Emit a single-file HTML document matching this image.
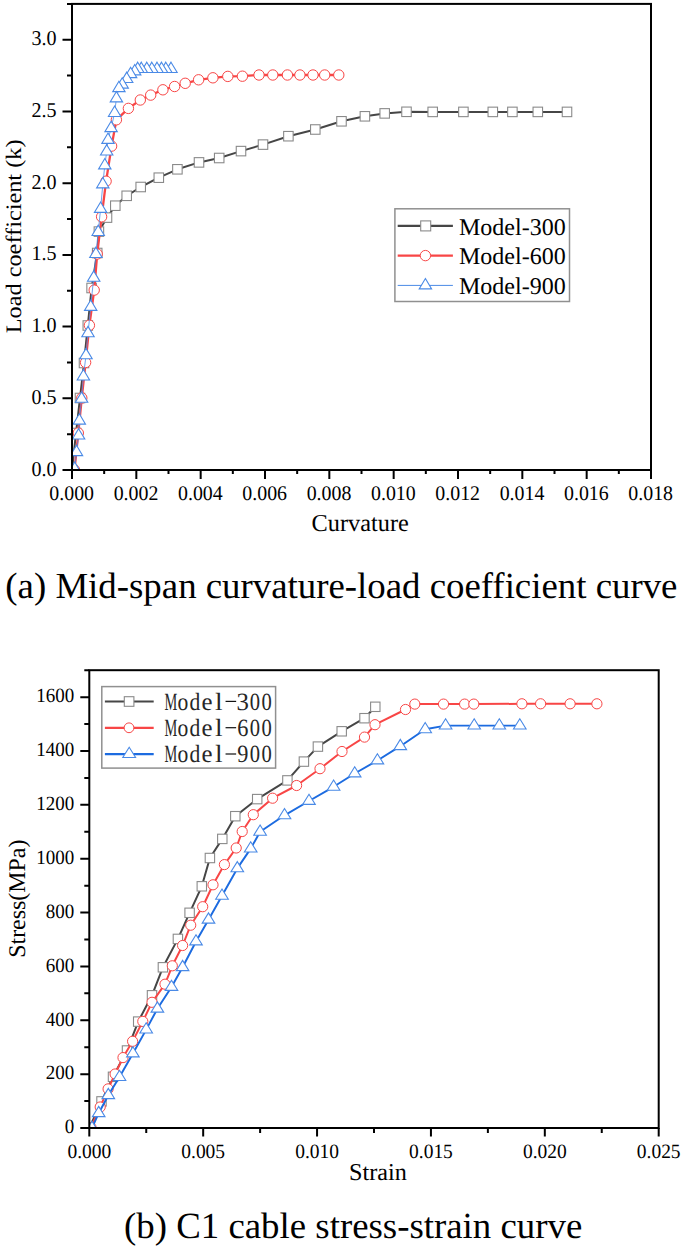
<!DOCTYPE html><html><head><meta charset="utf-8"><style>html,body{margin:0;padding:0;background:#fff;}svg{display:block;text-rendering:geometricPrecision;}</style></head><body>
<svg width="685" height="1249" viewBox="0 0 685 1249" font-family='"Liberation Serif", serif'>
<rect x="0" y="0" width="685" height="1249" fill="#fff"/>
<defs>
<clipPath id="c1"><rect x="72.0" y="3.9" width="579.0" height="466.1"/></clipPath>
</defs>
<g clip-path="url(#c1)">
<polyline points="72.00,470.00 76.00,433.00 80.00,398.00 84.00,363.00 87.80,325.50 91.60,288.00 97.20,253.00 98.90,231.60 107.00,217.60 115.30,205.70 126.70,195.80 140.70,187.00 158.80,177.70 177.40,169.30 199.00,162.40 219.20,158.00 241.00,151.10 263.00,144.60 288.40,136.20 315.30,129.50 341.50,121.30 364.90,116.30 384.70,113.40 406.50,111.80 432.70,111.90 463.40,111.90 492.80,111.90 512.40,111.90 537.80,111.90 567.00,111.90" fill="none" stroke="#464646" stroke-width="2.0" stroke-linejoin="round" stroke-linecap="butt"/>
<rect x="67.25" y="465.25" width="9.5" height="9.5" fill="#fff" stroke="#8a8a8a" stroke-width="1.1"/>
<rect x="71.25" y="428.25" width="9.5" height="9.5" fill="#fff" stroke="#8a8a8a" stroke-width="1.1"/>
<rect x="75.25" y="393.25" width="9.5" height="9.5" fill="#fff" stroke="#8a8a8a" stroke-width="1.1"/>
<rect x="79.25" y="358.25" width="9.5" height="9.5" fill="#fff" stroke="#8a8a8a" stroke-width="1.1"/>
<rect x="83.05" y="320.75" width="9.5" height="9.5" fill="#fff" stroke="#8a8a8a" stroke-width="1.1"/>
<rect x="86.85" y="283.25" width="9.5" height="9.5" fill="#fff" stroke="#8a8a8a" stroke-width="1.1"/>
<rect x="92.45" y="248.25" width="9.5" height="9.5" fill="#fff" stroke="#8a8a8a" stroke-width="1.1"/>
<rect x="94.15" y="226.85" width="9.5" height="9.5" fill="#fff" stroke="#8a8a8a" stroke-width="1.1"/>
<rect x="102.25" y="212.85" width="9.5" height="9.5" fill="#fff" stroke="#8a8a8a" stroke-width="1.1"/>
<rect x="110.55" y="200.95" width="9.5" height="9.5" fill="#fff" stroke="#8a8a8a" stroke-width="1.1"/>
<rect x="121.95" y="191.05" width="9.5" height="9.5" fill="#fff" stroke="#8a8a8a" stroke-width="1.1"/>
<rect x="135.95" y="182.25" width="9.5" height="9.5" fill="#fff" stroke="#8a8a8a" stroke-width="1.1"/>
<rect x="154.05" y="172.95" width="9.5" height="9.5" fill="#fff" stroke="#8a8a8a" stroke-width="1.1"/>
<rect x="172.65" y="164.55" width="9.5" height="9.5" fill="#fff" stroke="#8a8a8a" stroke-width="1.1"/>
<rect x="194.25" y="157.65" width="9.5" height="9.5" fill="#fff" stroke="#8a8a8a" stroke-width="1.1"/>
<rect x="214.45" y="153.25" width="9.5" height="9.5" fill="#fff" stroke="#8a8a8a" stroke-width="1.1"/>
<rect x="236.25" y="146.35" width="9.5" height="9.5" fill="#fff" stroke="#8a8a8a" stroke-width="1.1"/>
<rect x="258.25" y="139.85" width="9.5" height="9.5" fill="#fff" stroke="#8a8a8a" stroke-width="1.1"/>
<rect x="283.65" y="131.45" width="9.5" height="9.5" fill="#fff" stroke="#8a8a8a" stroke-width="1.1"/>
<rect x="310.55" y="124.75" width="9.5" height="9.5" fill="#fff" stroke="#8a8a8a" stroke-width="1.1"/>
<rect x="336.75" y="116.55" width="9.5" height="9.5" fill="#fff" stroke="#8a8a8a" stroke-width="1.1"/>
<rect x="360.15" y="111.55" width="9.5" height="9.5" fill="#fff" stroke="#8a8a8a" stroke-width="1.1"/>
<rect x="379.95" y="108.65" width="9.5" height="9.5" fill="#fff" stroke="#8a8a8a" stroke-width="1.1"/>
<rect x="401.75" y="107.05" width="9.5" height="9.5" fill="#fff" stroke="#8a8a8a" stroke-width="1.1"/>
<rect x="427.95" y="107.15" width="9.5" height="9.5" fill="#fff" stroke="#8a8a8a" stroke-width="1.1"/>
<rect x="458.65" y="107.15" width="9.5" height="9.5" fill="#fff" stroke="#8a8a8a" stroke-width="1.1"/>
<rect x="488.05" y="107.15" width="9.5" height="9.5" fill="#fff" stroke="#8a8a8a" stroke-width="1.1"/>
<rect x="507.65" y="107.15" width="9.5" height="9.5" fill="#fff" stroke="#8a8a8a" stroke-width="1.1"/>
<rect x="533.05" y="107.15" width="9.5" height="9.5" fill="#fff" stroke="#8a8a8a" stroke-width="1.1"/>
<rect x="562.25" y="107.15" width="9.5" height="9.5" fill="#fff" stroke="#8a8a8a" stroke-width="1.1"/>
<polyline points="74.50,470.00 78.30,433.00 81.80,398.00 85.60,362.50 89.40,325.30 94.20,290.10 97.20,254.00 101.60,216.80 106.10,181.20 111.60,146.10 116.40,119.80 128.40,108.40 140.30,100.00 150.70,95.10 162.90,89.80 174.60,86.50 185.20,83.30 198.60,79.80 212.90,77.80 227.80,76.40 242.40,76.20 259.00,75.00 272.80,75.00 287.40,75.00 299.90,75.00 313.00,75.00 324.70,75.00 338.80,75.00" fill="none" stroke="#f84646" stroke-width="2.3" stroke-linejoin="round" stroke-linecap="butt"/>
<circle cx="74.50" cy="470.00" r="5.2" fill="#fff" stroke="#f84646" stroke-width="1.0"/>
<circle cx="78.30" cy="433.00" r="5.2" fill="#fff" stroke="#f84646" stroke-width="1.0"/>
<circle cx="81.80" cy="398.00" r="5.2" fill="#fff" stroke="#f84646" stroke-width="1.0"/>
<circle cx="85.60" cy="362.50" r="5.2" fill="#fff" stroke="#f84646" stroke-width="1.0"/>
<circle cx="89.40" cy="325.30" r="5.2" fill="#fff" stroke="#f84646" stroke-width="1.0"/>
<circle cx="94.20" cy="290.10" r="5.2" fill="#fff" stroke="#f84646" stroke-width="1.0"/>
<circle cx="97.20" cy="254.00" r="5.2" fill="#fff" stroke="#f84646" stroke-width="1.0"/>
<circle cx="101.60" cy="216.80" r="5.2" fill="#fff" stroke="#f84646" stroke-width="1.0"/>
<circle cx="106.10" cy="181.20" r="5.2" fill="#fff" stroke="#f84646" stroke-width="1.0"/>
<circle cx="111.60" cy="146.10" r="5.2" fill="#fff" stroke="#f84646" stroke-width="1.0"/>
<circle cx="116.40" cy="119.80" r="5.2" fill="#fff" stroke="#f84646" stroke-width="1.0"/>
<circle cx="128.40" cy="108.40" r="5.2" fill="#fff" stroke="#f84646" stroke-width="1.0"/>
<circle cx="140.30" cy="100.00" r="5.2" fill="#fff" stroke="#f84646" stroke-width="1.0"/>
<circle cx="150.70" cy="95.10" r="5.2" fill="#fff" stroke="#f84646" stroke-width="1.0"/>
<circle cx="162.90" cy="89.80" r="5.2" fill="#fff" stroke="#f84646" stroke-width="1.0"/>
<circle cx="174.60" cy="86.50" r="5.2" fill="#fff" stroke="#f84646" stroke-width="1.0"/>
<circle cx="185.20" cy="83.30" r="5.2" fill="#fff" stroke="#f84646" stroke-width="1.0"/>
<circle cx="198.60" cy="79.80" r="5.2" fill="#fff" stroke="#f84646" stroke-width="1.0"/>
<circle cx="212.90" cy="77.80" r="5.2" fill="#fff" stroke="#f84646" stroke-width="1.0"/>
<circle cx="227.80" cy="76.40" r="5.2" fill="#fff" stroke="#f84646" stroke-width="1.0"/>
<circle cx="242.40" cy="76.20" r="5.2" fill="#fff" stroke="#f84646" stroke-width="1.0"/>
<circle cx="259.00" cy="75.00" r="5.2" fill="#fff" stroke="#f84646" stroke-width="1.0"/>
<circle cx="272.80" cy="75.00" r="5.2" fill="#fff" stroke="#f84646" stroke-width="1.0"/>
<circle cx="287.40" cy="75.00" r="5.2" fill="#fff" stroke="#f84646" stroke-width="1.0"/>
<circle cx="299.90" cy="75.00" r="5.2" fill="#fff" stroke="#f84646" stroke-width="1.0"/>
<circle cx="313.00" cy="75.00" r="5.2" fill="#fff" stroke="#f84646" stroke-width="1.0"/>
<circle cx="324.70" cy="75.00" r="5.2" fill="#fff" stroke="#f84646" stroke-width="1.0"/>
<circle cx="338.80" cy="75.00" r="5.2" fill="#fff" stroke="#f84646" stroke-width="1.0"/>
<polyline points="74.70,469.00 76.50,452.20 78.60,435.60 79.30,420.70 81.60,398.80 83.40,376.50 86.00,355.30 88.00,333.30 90.70,306.90 93.70,277.80 95.90,254.10 98.20,232.10 100.60,208.90 102.80,184.40 104.80,165.40 106.70,151.60 108.00,139.90 111.10,128.20 114.60,113.00 116.40,98.40 118.90,88.20 122.20,84.70 126.70,79.10 130.60,74.20 134.70,71.40 137.70,69.10 141.30,69.10 146.80,69.10 151.80,69.10 157.00,69.10 161.50,69.10 165.80,69.10 171.00,69.10" fill="none" stroke="#4a8ae6" stroke-width="0.8" stroke-linejoin="round" stroke-linecap="butt"/>
<path d="M171.00 62.17L177.20 72.57L164.80 72.57Z" fill="#fff" stroke="#4a8ae6" stroke-width="1.1" stroke-linejoin="miter"/>
<path d="M165.80 62.17L172.00 72.57L159.60 72.57Z" fill="#fff" stroke="#4a8ae6" stroke-width="1.1" stroke-linejoin="miter"/>
<path d="M161.50 62.17L167.70 72.57L155.30 72.57Z" fill="#fff" stroke="#4a8ae6" stroke-width="1.1" stroke-linejoin="miter"/>
<path d="M157.00 62.17L163.20 72.57L150.80 72.57Z" fill="#fff" stroke="#4a8ae6" stroke-width="1.1" stroke-linejoin="miter"/>
<path d="M151.80 62.17L158.00 72.57L145.60 72.57Z" fill="#fff" stroke="#4a8ae6" stroke-width="1.1" stroke-linejoin="miter"/>
<path d="M146.80 62.17L153.00 72.57L140.60 72.57Z" fill="#fff" stroke="#4a8ae6" stroke-width="1.1" stroke-linejoin="miter"/>
<path d="M141.30 62.17L147.50 72.57L135.10 72.57Z" fill="#fff" stroke="#4a8ae6" stroke-width="1.1" stroke-linejoin="miter"/>
<path d="M137.70 62.17L143.90 72.57L131.50 72.57Z" fill="#fff" stroke="#4a8ae6" stroke-width="1.1" stroke-linejoin="miter"/>
<path d="M134.70 64.47L140.90 74.87L128.50 74.87Z" fill="#fff" stroke="#4a8ae6" stroke-width="1.1" stroke-linejoin="miter"/>
<path d="M130.60 67.27L136.80 77.67L124.40 77.67Z" fill="#fff" stroke="#4a8ae6" stroke-width="1.1" stroke-linejoin="miter"/>
<path d="M126.70 72.17L132.90 82.57L120.50 82.57Z" fill="#fff" stroke="#4a8ae6" stroke-width="1.1" stroke-linejoin="miter"/>
<path d="M122.20 77.77L128.40 88.17L116.00 88.17Z" fill="#fff" stroke="#4a8ae6" stroke-width="1.1" stroke-linejoin="miter"/>
<path d="M118.90 81.27L125.10 91.67L112.70 91.67Z" fill="#fff" stroke="#4a8ae6" stroke-width="1.1" stroke-linejoin="miter"/>
<path d="M116.40 91.47L122.60 101.87L110.20 101.87Z" fill="#fff" stroke="#4a8ae6" stroke-width="1.1" stroke-linejoin="miter"/>
<path d="M114.60 106.07L120.80 116.47L108.40 116.47Z" fill="#fff" stroke="#4a8ae6" stroke-width="1.1" stroke-linejoin="miter"/>
<path d="M111.10 121.27L117.30 131.67L104.90 131.67Z" fill="#fff" stroke="#4a8ae6" stroke-width="1.1" stroke-linejoin="miter"/>
<path d="M108.00 132.97L114.20 143.37L101.80 143.37Z" fill="#fff" stroke="#4a8ae6" stroke-width="1.1" stroke-linejoin="miter"/>
<path d="M106.70 144.67L112.90 155.07L100.50 155.07Z" fill="#fff" stroke="#4a8ae6" stroke-width="1.1" stroke-linejoin="miter"/>
<path d="M104.80 158.47L111.00 168.87L98.60 168.87Z" fill="#fff" stroke="#4a8ae6" stroke-width="1.1" stroke-linejoin="miter"/>
<path d="M102.80 177.47L109.00 187.87L96.60 187.87Z" fill="#fff" stroke="#4a8ae6" stroke-width="1.1" stroke-linejoin="miter"/>
<path d="M100.60 201.97L106.80 212.37L94.40 212.37Z" fill="#fff" stroke="#4a8ae6" stroke-width="1.1" stroke-linejoin="miter"/>
<path d="M98.20 225.17L104.40 235.57L92.00 235.57Z" fill="#fff" stroke="#4a8ae6" stroke-width="1.1" stroke-linejoin="miter"/>
<path d="M95.90 247.17L102.10 257.57L89.70 257.57Z" fill="#fff" stroke="#4a8ae6" stroke-width="1.1" stroke-linejoin="miter"/>
<path d="M93.70 270.87L99.90 281.27L87.50 281.27Z" fill="#fff" stroke="#4a8ae6" stroke-width="1.1" stroke-linejoin="miter"/>
<path d="M90.70 299.97L96.90 310.37L84.50 310.37Z" fill="#fff" stroke="#4a8ae6" stroke-width="1.1" stroke-linejoin="miter"/>
<path d="M88.00 326.37L94.20 336.77L81.80 336.77Z" fill="#fff" stroke="#4a8ae6" stroke-width="1.1" stroke-linejoin="miter"/>
<path d="M86.00 348.37L92.20 358.77L79.80 358.77Z" fill="#fff" stroke="#4a8ae6" stroke-width="1.1" stroke-linejoin="miter"/>
<path d="M83.40 369.57L89.60 379.97L77.20 379.97Z" fill="#fff" stroke="#4a8ae6" stroke-width="1.1" stroke-linejoin="miter"/>
<path d="M81.60 391.87L87.80 402.27L75.40 402.27Z" fill="#fff" stroke="#4a8ae6" stroke-width="1.1" stroke-linejoin="miter"/>
<path d="M79.30 413.77L85.50 424.17L73.10 424.17Z" fill="#fff" stroke="#4a8ae6" stroke-width="1.1" stroke-linejoin="miter"/>
<path d="M78.60 428.67L84.80 439.07L72.40 439.07Z" fill="#fff" stroke="#4a8ae6" stroke-width="1.1" stroke-linejoin="miter"/>
<path d="M76.50 445.27L82.70 455.67L70.30 455.67Z" fill="#fff" stroke="#4a8ae6" stroke-width="1.1" stroke-linejoin="miter"/>
<path d="M74.70 462.07L80.90 472.47L68.50 472.47Z" fill="#fff" stroke="#4a8ae6" stroke-width="1.1" stroke-linejoin="miter"/>
</g>
<rect x="72.0" y="3.9" width="579.0" height="466.1" fill="none" stroke="#000" stroke-width="2"/>
<path d="M72.00 470.0V479.0 M104.17 470.0V474.1 M136.33 470.0V479.0 M168.50 470.0V474.1 M200.67 470.0V479.0 M232.83 470.0V474.1 M265.00 470.0V479.0 M297.17 470.0V474.1 M329.33 470.0V479.0 M361.50 470.0V474.1 M393.67 470.0V479.0 M425.83 470.0V474.1 M458.00 470.0V479.0 M490.17 470.0V474.1 M522.33 470.0V479.0 M554.50 470.0V474.1 M586.67 470.0V479.0 M618.83 470.0V474.1 M651.00 470.0V479.0 M72.0 470.00H62.5 M72.0 398.29H62.5 M72.0 326.58H62.5 M72.0 254.88H62.5 M72.0 183.17H62.5 M72.0 111.46H62.5 M72.0 39.75H62.5 M72.0 434.15H67.0 M72.0 362.44H67.0 M72.0 290.73H67.0 M72.0 219.02H67.0 M72.0 147.32H67.0 M72.0 75.61H67.0 M72.0 3.90H67.0" stroke="#000" stroke-width="2" fill="none"/>
<text transform="translate(71.70,500.2) scale(0.955,1)" font-size="20.8" text-anchor="middle">0.000</text>
<text transform="translate(136.03,500.2) scale(0.955,1)" font-size="20.8" text-anchor="middle">0.002</text>
<text transform="translate(200.37,500.2) scale(0.955,1)" font-size="20.8" text-anchor="middle">0.004</text>
<text transform="translate(264.70,500.2) scale(0.955,1)" font-size="20.8" text-anchor="middle">0.006</text>
<text transform="translate(329.03,500.2) scale(0.955,1)" font-size="20.8" text-anchor="middle">0.008</text>
<text transform="translate(393.37,500.2) scale(0.955,1)" font-size="20.8" text-anchor="middle">0.010</text>
<text transform="translate(457.70,500.2) scale(0.955,1)" font-size="20.8" text-anchor="middle">0.012</text>
<text transform="translate(522.03,500.2) scale(0.955,1)" font-size="20.8" text-anchor="middle">0.014</text>
<text transform="translate(586.37,500.2) scale(0.955,1)" font-size="20.8" text-anchor="middle">0.016</text>
<text transform="translate(650.70,500.2) scale(0.955,1)" font-size="20.8" text-anchor="middle">0.018</text>
<text transform="translate(56.5,475.60) scale(0.955,1)" font-size="21" text-anchor="end">0.0</text>
<text transform="translate(56.5,403.89) scale(0.955,1)" font-size="21" text-anchor="end">0.5</text>
<text transform="translate(56.5,332.18) scale(0.955,1)" font-size="21" text-anchor="end">1.0</text>
<text transform="translate(56.5,260.48) scale(0.955,1)" font-size="21" text-anchor="end">1.5</text>
<text transform="translate(56.5,188.77) scale(0.955,1)" font-size="21" text-anchor="end">2.0</text>
<text transform="translate(56.5,117.06) scale(0.955,1)" font-size="21" text-anchor="end">2.5</text>
<text transform="translate(56.5,45.35) scale(0.955,1)" font-size="21" text-anchor="end">3.0</text>
<text x="360.2" y="530.6" font-size="24.3" text-anchor="middle">Curvature</text>
<text transform="translate(20.9,236.4) rotate(-90) scale(1,0.91)" x="0" y="0" font-size="24.3" text-anchor="middle">Load coefficient (k)</text>
<rect x="394.9" y="208.8" width="174.6" height="92.7" fill="#fff" stroke="#909090" stroke-width="1.5"/>
<path d="M397.7 225.9H452.9" stroke="#464646" stroke-width="2.2"/>
<rect x="420.70" y="220.90" width="10" height="10" fill="#fff" stroke="#8a8a8a" stroke-width="1.1"/>
<path d="M397.7 255.6H452.9" stroke="#f84646" stroke-width="2.3"/>
<circle cx="425.40" cy="255.60" r="5.2" fill="#fff" stroke="#f84646" stroke-width="1.0"/>
<path d="M397.7 285.4H452.9" stroke="#4a8ae6" stroke-width="1"/>
<path d="M425.40 278.47L431.60 288.87L419.20 288.87Z" fill="#fff" stroke="#4a8ae6" stroke-width="1.1" stroke-linejoin="miter"/>
<text x="459" y="234.50" font-size="24">Model-300</text>
<text x="459" y="264.20" font-size="24">Model-600</text>
<text x="459" y="294.00" font-size="24">Model-900</text>
<text x="5.3" y="598" font-size="36.85">(a) Mid-span curvature-load coefficient curve</text>
<defs><clipPath id="c2"><rect x="89.3" y="670.2" width="569.4000000000001" height="457.79999999999995"/></clipPath></defs>
<g clip-path="url(#c2)">
<polyline points="89.30,1128.00 101.50,1101.40 113.00,1076.80 127.00,1050.50 138.20,1021.60 152.00,995.30 162.90,967.30 177.90,938.90 189.60,912.80 201.80,886.30 209.90,858.00 222.30,838.90 235.30,816.20 257.20,799.10 287.40,780.40 303.90,761.60 317.90,746.60 341.70,731.30 364.50,718.20 375.30,706.80" fill="none" stroke="#464646" stroke-width="2.0" stroke-linejoin="round" stroke-linecap="butt"/>
<rect x="84.60" y="1123.30" width="9.4" height="9.4" fill="#fff" stroke="#8a8a8a" stroke-width="1.1"/>
<rect x="96.80" y="1096.70" width="9.4" height="9.4" fill="#fff" stroke="#8a8a8a" stroke-width="1.1"/>
<rect x="108.30" y="1072.10" width="9.4" height="9.4" fill="#fff" stroke="#8a8a8a" stroke-width="1.1"/>
<rect x="122.30" y="1045.80" width="9.4" height="9.4" fill="#fff" stroke="#8a8a8a" stroke-width="1.1"/>
<rect x="133.50" y="1016.90" width="9.4" height="9.4" fill="#fff" stroke="#8a8a8a" stroke-width="1.1"/>
<rect x="147.30" y="990.60" width="9.4" height="9.4" fill="#fff" stroke="#8a8a8a" stroke-width="1.1"/>
<rect x="158.20" y="962.60" width="9.4" height="9.4" fill="#fff" stroke="#8a8a8a" stroke-width="1.1"/>
<rect x="173.20" y="934.20" width="9.4" height="9.4" fill="#fff" stroke="#8a8a8a" stroke-width="1.1"/>
<rect x="184.90" y="908.10" width="9.4" height="9.4" fill="#fff" stroke="#8a8a8a" stroke-width="1.1"/>
<rect x="197.10" y="881.60" width="9.4" height="9.4" fill="#fff" stroke="#8a8a8a" stroke-width="1.1"/>
<rect x="205.20" y="853.30" width="9.4" height="9.4" fill="#fff" stroke="#8a8a8a" stroke-width="1.1"/>
<rect x="217.60" y="834.20" width="9.4" height="9.4" fill="#fff" stroke="#8a8a8a" stroke-width="1.1"/>
<rect x="230.60" y="811.50" width="9.4" height="9.4" fill="#fff" stroke="#8a8a8a" stroke-width="1.1"/>
<rect x="252.50" y="794.40" width="9.4" height="9.4" fill="#fff" stroke="#8a8a8a" stroke-width="1.1"/>
<rect x="282.70" y="775.70" width="9.4" height="9.4" fill="#fff" stroke="#8a8a8a" stroke-width="1.1"/>
<rect x="299.20" y="756.90" width="9.4" height="9.4" fill="#fff" stroke="#8a8a8a" stroke-width="1.1"/>
<rect x="313.20" y="741.90" width="9.4" height="9.4" fill="#fff" stroke="#8a8a8a" stroke-width="1.1"/>
<rect x="337.00" y="726.60" width="9.4" height="9.4" fill="#fff" stroke="#8a8a8a" stroke-width="1.1"/>
<rect x="359.80" y="713.50" width="9.4" height="9.4" fill="#fff" stroke="#8a8a8a" stroke-width="1.1"/>
<rect x="370.60" y="702.10" width="9.4" height="9.4" fill="#fff" stroke="#8a8a8a" stroke-width="1.1"/>
<polyline points="91.00,1127.50 100.20,1107.00 108.10,1088.90 115.10,1074.00 123.00,1057.60 132.60,1041.30 142.80,1021.40 152.00,1002.30 165.00,984.20 172.30,965.80 182.60,945.50 190.70,925.20 202.70,906.70 213.00,884.80 224.40,864.60 236.20,848.00 242.20,831.50 253.30,814.70 272.60,798.20 296.60,785.50 320.00,768.70 342.00,751.50 364.50,737.10 375.00,724.70 405.50,709.50 414.80,704.10 443.50,704.10 464.60,704.10 473.80,704.10 521.90,703.80 540.60,703.80 570.10,703.80 596.90,703.80" fill="none" stroke="#f84646" stroke-width="2.0" stroke-linejoin="round" stroke-linecap="butt"/>
<circle cx="91.00" cy="1127.50" r="5.1" fill="#fff" stroke="#f84646" stroke-width="1.0"/>
<circle cx="100.20" cy="1107.00" r="5.1" fill="#fff" stroke="#f84646" stroke-width="1.0"/>
<circle cx="108.10" cy="1088.90" r="5.1" fill="#fff" stroke="#f84646" stroke-width="1.0"/>
<circle cx="115.10" cy="1074.00" r="5.1" fill="#fff" stroke="#f84646" stroke-width="1.0"/>
<circle cx="123.00" cy="1057.60" r="5.1" fill="#fff" stroke="#f84646" stroke-width="1.0"/>
<circle cx="132.60" cy="1041.30" r="5.1" fill="#fff" stroke="#f84646" stroke-width="1.0"/>
<circle cx="142.80" cy="1021.40" r="5.1" fill="#fff" stroke="#f84646" stroke-width="1.0"/>
<circle cx="152.00" cy="1002.30" r="5.1" fill="#fff" stroke="#f84646" stroke-width="1.0"/>
<circle cx="165.00" cy="984.20" r="5.1" fill="#fff" stroke="#f84646" stroke-width="1.0"/>
<circle cx="172.30" cy="965.80" r="5.1" fill="#fff" stroke="#f84646" stroke-width="1.0"/>
<circle cx="182.60" cy="945.50" r="5.1" fill="#fff" stroke="#f84646" stroke-width="1.0"/>
<circle cx="190.70" cy="925.20" r="5.1" fill="#fff" stroke="#f84646" stroke-width="1.0"/>
<circle cx="202.70" cy="906.70" r="5.1" fill="#fff" stroke="#f84646" stroke-width="1.0"/>
<circle cx="213.00" cy="884.80" r="5.1" fill="#fff" stroke="#f84646" stroke-width="1.0"/>
<circle cx="224.40" cy="864.60" r="5.1" fill="#fff" stroke="#f84646" stroke-width="1.0"/>
<circle cx="236.20" cy="848.00" r="5.1" fill="#fff" stroke="#f84646" stroke-width="1.0"/>
<circle cx="242.20" cy="831.50" r="5.1" fill="#fff" stroke="#f84646" stroke-width="1.0"/>
<circle cx="253.30" cy="814.70" r="5.1" fill="#fff" stroke="#f84646" stroke-width="1.0"/>
<circle cx="272.60" cy="798.20" r="5.1" fill="#fff" stroke="#f84646" stroke-width="1.0"/>
<circle cx="296.60" cy="785.50" r="5.1" fill="#fff" stroke="#f84646" stroke-width="1.0"/>
<circle cx="320.00" cy="768.70" r="5.1" fill="#fff" stroke="#f84646" stroke-width="1.0"/>
<circle cx="342.00" cy="751.50" r="5.1" fill="#fff" stroke="#f84646" stroke-width="1.0"/>
<circle cx="364.50" cy="737.10" r="5.1" fill="#fff" stroke="#f84646" stroke-width="1.0"/>
<circle cx="375.00" cy="724.70" r="5.1" fill="#fff" stroke="#f84646" stroke-width="1.0"/>
<circle cx="405.50" cy="709.50" r="5.1" fill="#fff" stroke="#f84646" stroke-width="1.0"/>
<circle cx="414.80" cy="704.10" r="5.1" fill="#fff" stroke="#f84646" stroke-width="1.0"/>
<circle cx="443.50" cy="704.10" r="5.1" fill="#fff" stroke="#f84646" stroke-width="1.0"/>
<circle cx="464.60" cy="704.10" r="5.1" fill="#fff" stroke="#f84646" stroke-width="1.0"/>
<circle cx="473.80" cy="704.10" r="5.1" fill="#fff" stroke="#f84646" stroke-width="1.0"/>
<circle cx="521.90" cy="703.80" r="5.1" fill="#fff" stroke="#f84646" stroke-width="1.0"/>
<circle cx="540.60" cy="703.80" r="5.1" fill="#fff" stroke="#f84646" stroke-width="1.0"/>
<circle cx="570.10" cy="703.80" r="5.1" fill="#fff" stroke="#f84646" stroke-width="1.0"/>
<circle cx="596.90" cy="703.80" r="5.1" fill="#fff" stroke="#f84646" stroke-width="1.0"/>
<polyline points="92.00,1128.00 98.70,1113.20 108.30,1095.20 119.50,1077.10 132.90,1053.50 146.20,1029.60 157.40,1008.70 171.50,987.00 182.60,967.20 196.00,941.50 208.50,919.70 222.00,895.80 237.30,868.40 250.70,848.60 260.10,831.80 284.50,815.30 309.00,801.00 333.60,786.80 354.70,773.50 377.40,760.50 400.30,746.20 425.20,729.30 445.60,725.60 474.20,725.60 499.30,725.60 519.80,725.60" fill="none" stroke="#1c6be0" stroke-width="1.95" stroke-linejoin="round" stroke-linecap="butt"/>
<path d="M92.00 1121.20L98.30 1131.40L85.70 1131.40Z" fill="#fff" stroke="#4a8ae6" stroke-width="1.1" stroke-linejoin="miter"/>
<path d="M98.70 1106.40L105.00 1116.60L92.40 1116.60Z" fill="#fff" stroke="#4a8ae6" stroke-width="1.1" stroke-linejoin="miter"/>
<path d="M108.30 1088.40L114.60 1098.60L102.00 1098.60Z" fill="#fff" stroke="#4a8ae6" stroke-width="1.1" stroke-linejoin="miter"/>
<path d="M119.50 1070.30L125.80 1080.50L113.20 1080.50Z" fill="#fff" stroke="#4a8ae6" stroke-width="1.1" stroke-linejoin="miter"/>
<path d="M132.90 1046.70L139.20 1056.90L126.60 1056.90Z" fill="#fff" stroke="#4a8ae6" stroke-width="1.1" stroke-linejoin="miter"/>
<path d="M146.20 1022.80L152.50 1033.00L139.90 1033.00Z" fill="#fff" stroke="#4a8ae6" stroke-width="1.1" stroke-linejoin="miter"/>
<path d="M157.40 1001.90L163.70 1012.10L151.10 1012.10Z" fill="#fff" stroke="#4a8ae6" stroke-width="1.1" stroke-linejoin="miter"/>
<path d="M171.50 980.20L177.80 990.40L165.20 990.40Z" fill="#fff" stroke="#4a8ae6" stroke-width="1.1" stroke-linejoin="miter"/>
<path d="M182.60 960.40L188.90 970.60L176.30 970.60Z" fill="#fff" stroke="#4a8ae6" stroke-width="1.1" stroke-linejoin="miter"/>
<path d="M196.00 934.70L202.30 944.90L189.70 944.90Z" fill="#fff" stroke="#4a8ae6" stroke-width="1.1" stroke-linejoin="miter"/>
<path d="M208.50 912.90L214.80 923.10L202.20 923.10Z" fill="#fff" stroke="#4a8ae6" stroke-width="1.1" stroke-linejoin="miter"/>
<path d="M222.00 889.00L228.30 899.20L215.70 899.20Z" fill="#fff" stroke="#4a8ae6" stroke-width="1.1" stroke-linejoin="miter"/>
<path d="M237.30 861.60L243.60 871.80L231.00 871.80Z" fill="#fff" stroke="#4a8ae6" stroke-width="1.1" stroke-linejoin="miter"/>
<path d="M250.70 841.80L257.00 852.00L244.40 852.00Z" fill="#fff" stroke="#4a8ae6" stroke-width="1.1" stroke-linejoin="miter"/>
<path d="M260.10 825.00L266.40 835.20L253.80 835.20Z" fill="#fff" stroke="#4a8ae6" stroke-width="1.1" stroke-linejoin="miter"/>
<path d="M284.50 808.50L290.80 818.70L278.20 818.70Z" fill="#fff" stroke="#4a8ae6" stroke-width="1.1" stroke-linejoin="miter"/>
<path d="M309.00 794.20L315.30 804.40L302.70 804.40Z" fill="#fff" stroke="#4a8ae6" stroke-width="1.1" stroke-linejoin="miter"/>
<path d="M333.60 780.00L339.90 790.20L327.30 790.20Z" fill="#fff" stroke="#4a8ae6" stroke-width="1.1" stroke-linejoin="miter"/>
<path d="M354.70 766.70L361.00 776.90L348.40 776.90Z" fill="#fff" stroke="#4a8ae6" stroke-width="1.1" stroke-linejoin="miter"/>
<path d="M377.40 753.70L383.70 763.90L371.10 763.90Z" fill="#fff" stroke="#4a8ae6" stroke-width="1.1" stroke-linejoin="miter"/>
<path d="M400.30 739.40L406.60 749.60L394.00 749.60Z" fill="#fff" stroke="#4a8ae6" stroke-width="1.1" stroke-linejoin="miter"/>
<path d="M425.20 722.50L431.50 732.70L418.90 732.70Z" fill="#fff" stroke="#4a8ae6" stroke-width="1.1" stroke-linejoin="miter"/>
<path d="M445.60 718.80L451.90 729.00L439.30 729.00Z" fill="#fff" stroke="#4a8ae6" stroke-width="1.1" stroke-linejoin="miter"/>
<path d="M474.20 718.80L480.50 729.00L467.90 729.00Z" fill="#fff" stroke="#4a8ae6" stroke-width="1.1" stroke-linejoin="miter"/>
<path d="M499.30 718.80L505.60 729.00L493.00 729.00Z" fill="#fff" stroke="#4a8ae6" stroke-width="1.1" stroke-linejoin="miter"/>
<path d="M519.80 718.80L526.10 729.00L513.50 729.00Z" fill="#fff" stroke="#4a8ae6" stroke-width="1.1" stroke-linejoin="miter"/>
</g>
<rect x="89.3" y="670.2" width="569.4000000000001" height="457.79999999999995" fill="none" stroke="#000" stroke-width="2"/>
<path d="M89.30 1128.0V1136.6 M146.24 1128.0V1133.0 M203.18 1128.0V1136.6 M260.12 1128.0V1133.0 M317.06 1128.0V1136.6 M374.00 1128.0V1133.0 M430.94 1128.0V1136.6 M487.88 1128.0V1133.0 M544.82 1128.0V1136.6 M601.76 1128.0V1133.0 M658.70 1128.0V1136.6 M89.3 1128.00H80.3 M89.3 1101.07H84.3 M89.3 1074.14H80.3 M89.3 1047.21H84.3 M89.3 1020.28H80.3 M89.3 993.35H84.3 M89.3 966.42H80.3 M89.3 939.49H84.3 M89.3 912.56H80.3 M89.3 885.64H84.3 M89.3 858.71H80.3 M89.3 831.78H84.3 M89.3 804.85H80.3 M89.3 777.92H84.3 M89.3 750.99H80.3 M89.3 724.06H84.3 M89.3 697.13H80.3 M89.3 670.20H84.3" stroke="#000" stroke-width="2" fill="none"/>
<text transform="translate(89.30,1158) scale(0.955,1)" font-size="20.4" text-anchor="middle">0.000</text>
<text transform="translate(203.18,1158) scale(0.955,1)" font-size="20.4" text-anchor="middle">0.005</text>
<text transform="translate(317.06,1158) scale(0.955,1)" font-size="20.4" text-anchor="middle">0.010</text>
<text transform="translate(430.94,1158) scale(0.955,1)" font-size="20.4" text-anchor="middle">0.015</text>
<text transform="translate(544.82,1158) scale(0.955,1)" font-size="20.4" text-anchor="middle">0.020</text>
<text transform="translate(658.70,1158) scale(0.955,1)" font-size="20.4" text-anchor="middle">0.025</text>
<text transform="translate(74.2,1133.30) scale(0.94,1)" font-size="20.2" text-anchor="end">0</text>
<text transform="translate(74.2,1079.44) scale(0.94,1)" font-size="20.2" text-anchor="end">200</text>
<text transform="translate(74.2,1025.58) scale(0.94,1)" font-size="20.2" text-anchor="end">400</text>
<text transform="translate(74.2,971.72) scale(0.94,1)" font-size="20.2" text-anchor="end">600</text>
<text transform="translate(74.2,917.86) scale(0.94,1)" font-size="20.2" text-anchor="end">800</text>
<text transform="translate(74.2,864.01) scale(0.94,1)" font-size="20.2" text-anchor="end">1000</text>
<text transform="translate(74.2,810.15) scale(0.94,1)" font-size="20.2" text-anchor="end">1200</text>
<text transform="translate(74.2,756.29) scale(0.94,1)" font-size="20.2" text-anchor="end">1400</text>
<text transform="translate(74.2,702.43) scale(0.94,1)" font-size="20.2" text-anchor="end">1600</text>
<text x="378" y="1179.9" font-size="24.2" text-anchor="middle">Strain</text>
<text transform="translate(24.5,898.7) rotate(-90)" x="0" y="0" font-size="23.9" text-anchor="middle">Stress(MPa)</text>
<rect x="101.8" y="686.6" width="173.8" height="81.5" fill="#fff" stroke="#909090" stroke-width="1.5"/>
<path d="M104.9 701.5H153.7" stroke="#464646" stroke-width="2.2"/>
<rect x="124.30" y="696.70" width="9.6" height="9.6" fill="#fff" stroke="#8a8a8a" stroke-width="1.1"/>
<path d="M104.9 727.8H153.7" stroke="#f84646" stroke-width="2.3"/>
<circle cx="129.00" cy="727.80" r="4.9" fill="#fff" stroke="#f84646" stroke-width="1.0"/>
<path d="M104.9 754.1H153.7" stroke="#1c6be0" stroke-width="2.1"/>
<path d="M129.20 747.30L135.60 757.50L122.80 757.50Z" fill="#fff" stroke="#4a8ae6" stroke-width="1.1" stroke-linejoin="miter"/>
<text transform="translate(171.00,709.70) scale(0.58,1)" font-size="24.8" text-anchor="middle" fill="#262626">M</text>
<text transform="translate(182.97,709.70) scale(0.87,1)" font-size="24.8" text-anchor="middle" fill="#262626">o</text>
<text transform="translate(194.94,709.70) scale(0.87,1)" font-size="24.8" text-anchor="middle" fill="#262626">d</text>
<text transform="translate(206.91,709.70) scale(1.0,1)" font-size="24.8" text-anchor="middle" fill="#262626">e</text>
<text transform="translate(218.88,709.70) scale(1.1,1)" font-size="24.8" text-anchor="middle" fill="#262626">l</text>
<rect x="225.55" y="700.80" width="10.6" height="1.2" fill="#111"/>
<text transform="translate(242.82,709.70) scale(1.0,1)" font-size="24.8" text-anchor="middle" fill="#262626">3</text>
<text transform="translate(254.79,709.70) scale(0.83,1)" font-size="24.8" text-anchor="middle" fill="#262626">0</text>
<text transform="translate(266.76,709.70) scale(0.83,1)" font-size="24.8" text-anchor="middle" fill="#262626">0</text>
<text transform="translate(171.00,736.00) scale(0.58,1)" font-size="24.8" text-anchor="middle" fill="#262626">M</text>
<text transform="translate(182.97,736.00) scale(0.87,1)" font-size="24.8" text-anchor="middle" fill="#262626">o</text>
<text transform="translate(194.94,736.00) scale(0.87,1)" font-size="24.8" text-anchor="middle" fill="#262626">d</text>
<text transform="translate(206.91,736.00) scale(1.0,1)" font-size="24.8" text-anchor="middle" fill="#262626">e</text>
<text transform="translate(218.88,736.00) scale(1.1,1)" font-size="24.8" text-anchor="middle" fill="#262626">l</text>
<rect x="225.55" y="727.10" width="10.6" height="1.2" fill="#111"/>
<text transform="translate(242.82,736.00) scale(0.9,1)" font-size="24.8" text-anchor="middle" fill="#262626">6</text>
<text transform="translate(254.79,736.00) scale(0.83,1)" font-size="24.8" text-anchor="middle" fill="#262626">0</text>
<text transform="translate(266.76,736.00) scale(0.83,1)" font-size="24.8" text-anchor="middle" fill="#262626">0</text>
<text transform="translate(171.00,762.30) scale(0.58,1)" font-size="24.8" text-anchor="middle" fill="#262626">M</text>
<text transform="translate(182.97,762.30) scale(0.87,1)" font-size="24.8" text-anchor="middle" fill="#262626">o</text>
<text transform="translate(194.94,762.30) scale(0.87,1)" font-size="24.8" text-anchor="middle" fill="#262626">d</text>
<text transform="translate(206.91,762.30) scale(1.0,1)" font-size="24.8" text-anchor="middle" fill="#262626">e</text>
<text transform="translate(218.88,762.30) scale(1.1,1)" font-size="24.8" text-anchor="middle" fill="#262626">l</text>
<rect x="225.55" y="753.40" width="10.6" height="1.2" fill="#111"/>
<text transform="translate(242.82,762.30) scale(0.9,1)" font-size="24.8" text-anchor="middle" fill="#262626">9</text>
<text transform="translate(254.79,762.30) scale(0.83,1)" font-size="24.8" text-anchor="middle" fill="#262626">0</text>
<text transform="translate(266.76,762.30) scale(0.83,1)" font-size="24.8" text-anchor="middle" fill="#262626">0</text>
<text x="124.1" y="1238" font-size="36.85">(b) C1 cable stress-strain curve</text>
</svg></body></html>
